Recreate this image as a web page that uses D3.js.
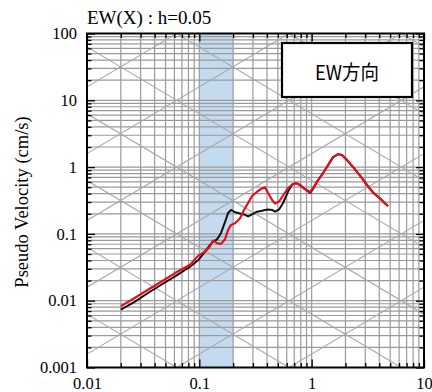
<!DOCTYPE html>
<html>
<head>
<meta charset="utf-8">
<script src="https://cdn.jsdelivr.net/npm/d3@7"></script>
<style>
  html, body { margin: 0; padding: 0; background: #fff; }
  svg { display: block; }
</style>
</head>
<body>
<svg id="chart" width="432" height="392"></svg>
<script>
// ---- data ----
const titleText = "EW(X) : h=0.05";
const yAxisLabel = "Pseudo Velocity (cm/s)";
const legendLabel = "EW方向";
const xTickValues = [0.01, 0.1, 1, 10];
const xTickLabels = ["0.01", "0.1", "1", "10"];
const yTickValues = [0.001, 0.01, 0.1, 1, 10, 100];
const yTickLabels = ["0.001", "0.01", "0.1", "1", "10", "100"];
const bandRange = [0.1, 0.2];
const displacementLines = [1e-6, 1e-5, 1e-4, 1e-3, 1e-2, 1e-1, 1, 10, 100];
const accelerationLines = [1e-2, 1e-1, 1, 10, 100, 1e3, 1e4, 1e5, 1e6];

const periods = [0.020, 0.0268, 0.0349, 0.0466, 0.0608, 0.0827, 0.0974, 0.1124, 0.1245, 0.1324,
  0.1438, 0.1561, 0.1694, 0.1802, 0.1916, 0.2079, 0.2304, 0.2500, 0.2715, 0.2947,
  0.3265, 0.3617, 0.3846, 0.4090, 0.4442, 0.4722, 0.5126, 0.5564, 0.6164, 0.6691,
  0.7262, 0.7884, 0.8735, 0.9678, 1.029, 1.140, 1.263, 1.400, 1.551, 1.718,
  1.866, 2.067, 2.338, 2.698, 3.114, 3.521, 4.064, 4.504, 4.788];
const blackVelocity = [0.00734, 0.00966, 0.01303, 0.01763, 0.02306, 0.0322, 0.0402, 0.0544, 0.0685, 0.0767,
  0.0828, 0.1035, 0.151, 0.2058, 0.2282, 0.2109, 0.2023, 0.1954, 0.1825, 0.1954,
  0.2152, 0.2227, 0.2282, 0.2321, 0.2282, 0.2152, 0.2321, 0.2902, 0.43, 0.545,
  0.575, 0.537, 0.465, 0.409, 0.47, 0.635, 0.814, 1.071, 1.41, 1.563,
  1.51, 1.272, 1.0, 0.746, 0.539, 0.416, 0.3388, 0.2851, 0.2618];
const redVelocity = [0.00828, 0.01109, 0.01459, 0.01954, 0.02591, 0.0345, 0.0469, 0.0544, 0.0646, 0.0794,
  0.0726, 0.0709, 0.0833, 0.1147, 0.1362, 0.1444, 0.1715, 0.2282, 0.2902, 0.3693,
  0.4279, 0.481, 0.4977, 0.4091, 0.3218, 0.2851, 0.3055, 0.3756, 0.486, 0.548,
  0.577, 0.539, 0.469, 0.4235, 0.486, 0.64, 0.814, 1.071, 1.41, 1.563,
  1.51, 1.272, 1.0, 0.746, 0.539, 0.416, 0.3388, 0.2851, 0.2618];

// ---- layout ----
const L = 87, R = 424, T = 33.5, B = 367.5;
const svg = d3.select("#chart");
const x = d3.scaleLog().domain([0.01, 10]).range([L, R]);
const y = d3.scaleLog().domain([0.001, 100]).range([B, T]);

const SERIF = '"Liberation Serif"';
const gridColor = "#9a9a9a";

svg.append("defs").append("clipPath").attr("id", "plotClip")
  .append("rect").attr("x", L).attr("y", T).attr("width", R - L).attr("height", B - T);

const plot = svg.append("g").attr("clip-path", "url(#plotClip)");

// band
plot.append("rect")
  .attr("x", x(bandRange[0])).attr("y", T)
  .attr("width", x(bandRange[1]) - x(bandRange[0])).attr("height", B - T)
  .attr("fill", "#c4dbef");

// log grid values
function logGrid(lo, hi) {
  const out = [];
  for (let e = Math.round(Math.log10(lo)); e < Math.round(Math.log10(hi)); e++) {
    for (let m = 1; m <= 9; m++) out.push(m * Math.pow(10, e));
  }
  out.push(hi);
  return out;
}
const xGrid = logGrid(0.01, 10);
const yGrid = logGrid(0.001, 100);
const xMinor = xGrid.filter(v => !xTickValues.some(t => Math.abs(t - v) / t < 1e-9));
const yMinor = yGrid.filter(v => !yTickValues.some(t => Math.abs(t - v) / t < 1e-9));

plot.selectAll("line.vg").data(xGrid).join("line").attr("class", "vg")
  .attr("x1", d => x(d)).attr("x2", d => x(d)).attr("y1", T).attr("y2", B)
  .attr("stroke", gridColor).attr("stroke-width", 1.2);
plot.selectAll("line.hg").data(yGrid).join("line").attr("class", "hg")
  .attr("y1", d => y(d)).attr("y2", d => y(d)).attr("x1", L).attr("x2", R)
  .attr("stroke", gridColor).attr("stroke-width", 1.2);

// tripartite diagonals
const tA = 0.01, tB = 10;
plot.selectAll("line.dl").data(displacementLines).join("line").attr("class", "dl")
  .attr("x1", x(tA)).attr("x2", x(tB))
  .attr("y1", d => y(2 * Math.PI * d / tA)).attr("y2", d => y(2 * Math.PI * d / tB))
  .attr("stroke", "#a8a8a8").attr("stroke-width", 1.1);
plot.selectAll("line.al").data(accelerationLines).join("line").attr("class", "al")
  .attr("x1", x(tA)).attr("x2", x(tB))
  .attr("y1", d => y(d * tA / (2 * Math.PI))).attr("y2", d => y(d * tB / (2 * Math.PI)))
  .attr("stroke", "#a8a8a8").attr("stroke-width", 1.1);

// curves
const line = d3.line().x(d => x(d[0])).y(d => y(d[1]));
plot.append("path").datum(periods.map((p, i) => [p, blackVelocity[i]]))
  .attr("d", line).attr("fill", "none").attr("stroke", "#111").attr("stroke-width", 2)
  .attr("stroke-linejoin", "round");
plot.append("path").datum(periods.map((p, i) => [p, redVelocity[i]]))
  .attr("d", line).attr("fill", "none").attr("stroke", "#e3101c").attr("stroke-width", 2.2)
  .attr("stroke-linejoin", "round");

// axes (ticks inside)
function styleAxis(g) {
  g.attr("font-family", null).attr("font-size", null);
  g.select(".domain").remove();
  g.selectAll(".tick line").attr("stroke", "#000").attr("stroke-width", 1.3);
  g.selectAll("text").style("font-family", SERIF).style("font-size", "16.5px").attr("fill", "#000");
}
const fmtX = v => xTickLabels[xTickValues.findIndex(t => Math.abs(t - v) / t < 1e-9)];
const fmtY = v => yTickLabels[yTickValues.findIndex(t => Math.abs(t - v) / t < 1e-9)];

svg.append("g").attr("transform", `translate(0,${B})`)
  .call(d3.axisBottom(x).tickValues(xTickValues).tickSize(-8).tickSizeOuter(0).tickPadding(10).tickFormat(fmtX))
  .call(styleAxis);
svg.append("g").attr("transform", `translate(0,${B})`)
  .call(d3.axisBottom(x).tickValues(xMinor).tickSize(-4.5).tickSizeOuter(0).tickFormat(""))
  .call(styleAxis);
svg.append("g").attr("transform", `translate(0,${T})`)
  .call(d3.axisTop(x).tickValues(xTickValues).tickSize(-8).tickSizeOuter(0).tickFormat(""))
  .call(styleAxis);
svg.append("g").attr("transform", `translate(0,${T})`)
  .call(d3.axisTop(x).tickValues(xMinor).tickSize(-4.5).tickSizeOuter(0).tickFormat(""))
  .call(styleAxis);
svg.append("g").attr("transform", `translate(${L},0)`)
  .call(d3.axisLeft(y).tickValues(yTickValues).tickSize(-8).tickSizeOuter(0).tickPadding(10).tickFormat(fmtY))
  .call(styleAxis);
svg.append("g").attr("transform", `translate(${L},0)`)
  .call(d3.axisLeft(y).tickValues(yMinor).tickSize(-4.5).tickSizeOuter(0).tickFormat(""))
  .call(styleAxis);
svg.append("g").attr("transform", `translate(${R},0)`)
  .call(d3.axisRight(y).tickValues(yTickValues).tickSize(-8).tickSizeOuter(0).tickFormat(""))
  .call(styleAxis);
svg.append("g").attr("transform", `translate(${R},0)`)
  .call(d3.axisRight(y).tickValues(yMinor).tickSize(-4.5).tickSizeOuter(0).tickFormat(""))
  .call(styleAxis);

// frame
svg.append("rect").attr("x", L).attr("y", T).attr("width", R - L).attr("height", B - T)
  .attr("fill", "none").attr("stroke", "#000").attr("stroke-width", 2);

// title
svg.append("text").attr("x", L).attr("y", 24).text(titleText)
  .style("font-family", SERIF).style("font-size", "19px").attr("fill", "#000");

// y label
svg.append("text").attr("transform", "translate(28,202) rotate(-90)")
  .attr("text-anchor", "middle").text(yAxisLabel)
  .style("font-family", SERIF).style("font-size", "18.5px").attr("fill", "#000");

// legend box
svg.append("rect").attr("x", 282).attr("y", 43).attr("width", 130).attr("height", 54)
  .attr("fill", "#fff").attr("stroke", "#000").attr("stroke-width", 2.2);
svg.append("text").attr("x", 347).attr("y", 71).attr("text-anchor", "middle")
  .attr("dominant-baseline", "central").text(legendLabel)
  .style("font-family", '"Noto Sans CJK JP"').style("font-size", "20px")
  .attr("textLength", 64).attr("lengthAdjust", "spacingAndGlyphs").attr("fill", "#000");
</script>
</body>
</html>
